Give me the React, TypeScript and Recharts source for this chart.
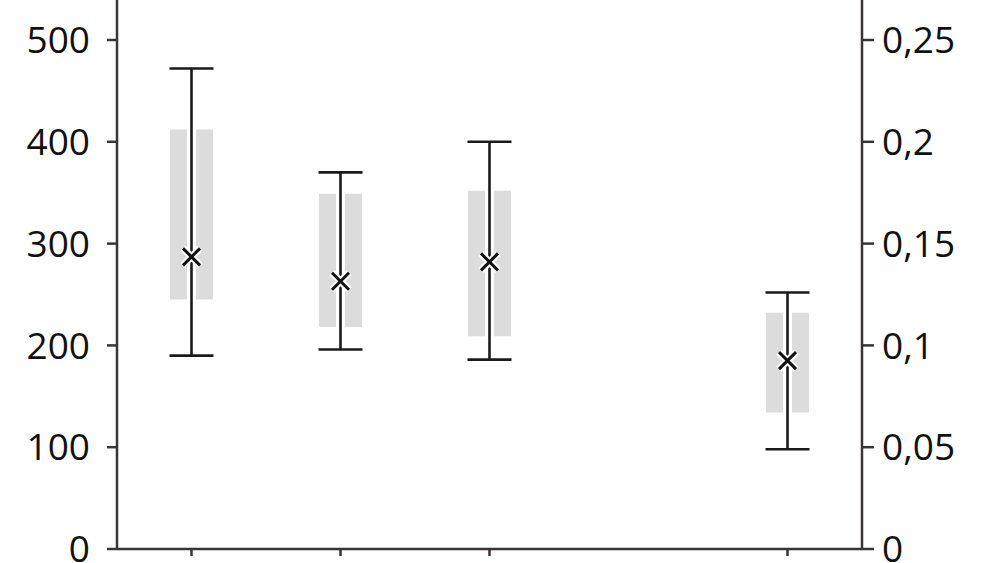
import React from 'react';
import { ComposedChart, Bar, Scatter, ErrorBar, XAxis, YAxis } from 'recharts';

const categories = ['1', '2', '3', '4', '5'];
const means: (number | null)[] = [287, 263, 282, null, 185];
const whiskerLow: (number | null)[] = [190, 196, 186, null, 98];
const whiskerHigh: (number | null)[] = [472, 370, 400, null, 252];
const boxLow: (number | null)[] = [245, 218, 209, null, 134];
const boxHigh: (number | null)[] = [412, 349, 352, null, 232];

const leftTicks = [0, 100, 200, 300, 400, 500];
const rightTicks = [0, 0.05, 0.1, 0.15, 0.2, 0.25];
const xTicks = ['1', '2', '3', '5'];

const data = categories.map((name, i) => ({
  name,
  mean: means[i],
  box: boxLow[i] != null && boxHigh[i] != null ? [boxLow[i], boxHigh[i]] : null,
  err:
    means[i] != null
      ? [(means[i] as number) - (whiskerLow[i] as number), (whiskerHigh[i] as number) - (means[i] as number)]
      : null,
}));

const LEFT_MAX = 539.3;
const RIGHT_MAX = (LEFT_MAX / 500) * 0.25;

const AXIS = '#3a3434';
const FONT = { fontFamily: 'Open Sans', fontSize: 37, fill: '#111' };

const XMark = (props: any) => {
  const { cx, cy, payload } = props;
  if (payload == null || payload.mean == null || cx == null || cy == null) return null;
  const s = 8.5;
  return (
    <g>
      <line x1={cx - s} y1={cy - s} x2={cx + s} y2={cy + s} stroke="#fff" strokeWidth={7} />
      <line x1={cx - s} y1={cy + s} x2={cx + s} y2={cy - s} stroke="#fff" strokeWidth={7} />
      <line x1={cx - s} y1={cy - s} x2={cx + s} y2={cy + s} stroke="#111" strokeWidth={3} />
      <line x1={cx - s} y1={cy + s} x2={cx + s} y2={cy - s} stroke="#111" strokeWidth={3} />
    </g>
  );
};

const EmptyTick = () => <g />;

const fmtRight = (v: number) => String(v).replace('.', ',');

export default function App() {
  return (
    <div style={{ position: 'absolute', left: 0, top: 0, width: 1000, height: 563, background: '#fff' }}>
      <ComposedChart width={1000} height={563} data={data} margin={{ top: 0, right: 0, bottom: 0, left: 0 }}>
        <XAxis
          dataKey="name"
          height={14}
          ticks={xTicks}
          interval={0}
          tick={<EmptyTick />}
          tickSize={7}
          axisLine={{ stroke: AXIS, strokeWidth: 2.5 }}
          tickLine={{ stroke: AXIS, strokeWidth: 2.5 }}
        />
        <YAxis
          yAxisId="left"
          orientation="left"
          width={117}
          domain={[0, LEFT_MAX]}
          ticks={leftTicks}
          interval={0}
          allowDataOverflow
          tickSize={10}
          tickMargin={17}
          tick={FONT}
          axisLine={{ stroke: AXIS, strokeWidth: 2.5 }}
          tickLine={{ stroke: AXIS, strokeWidth: 2.5 }}
        />
        <YAxis
          yAxisId="right"
          orientation="right"
          width={138}
          domain={[0, RIGHT_MAX]}
          ticks={rightTicks}
          interval={0}
          allowDataOverflow
          tickFormatter={fmtRight}
          tickSize={12}
          tickMargin={8}
          tick={FONT}
          axisLine={{ stroke: AXIS, strokeWidth: 2.5 }}
          tickLine={{ stroke: AXIS, strokeWidth: 2.5 }}
        />
        <Bar yAxisId="left" dataKey="box" fill="#dcdcdc" barSize={43} isAnimationActive={false} />
        <Scatter yAxisId="left" dataKey="mean" shape={<XMark />} isAnimationActive={false}>
          <ErrorBar dataKey="err" direction="y" width={0} stroke="#fff" strokeWidth={9} />
          <ErrorBar dataKey="err" direction="y" width={22} stroke="#1a1a1a" strokeWidth={2.6} />
        </Scatter>
      </ComposedChart>
    </div>
  );
}
